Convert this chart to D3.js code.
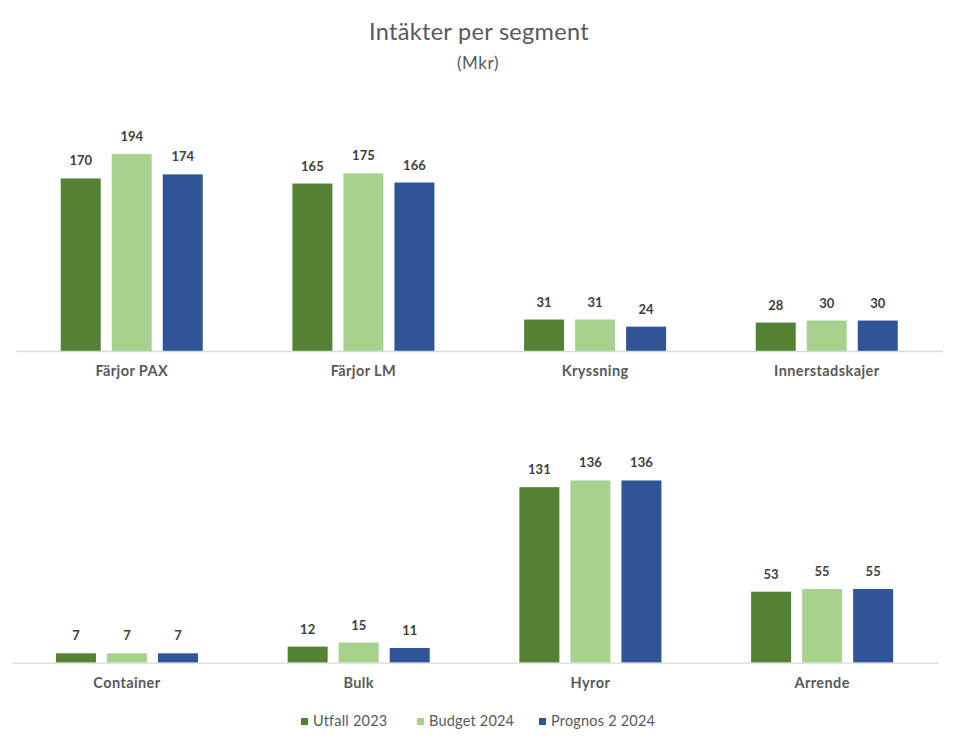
<!DOCTYPE html>
<html>
<head>
<meta charset="utf-8">
<script src="https://cdn.jsdelivr.net/npm/d3@7"></script>
<style>
  html, body { margin: 0; padding: 0; background: #ffffff; }
  svg { display: block; font-family: Lato, "Open Sans", "Noto Sans", sans-serif; }
</style>
</head>
<body>
<svg id="chart" width="958" height="740"></svg>
<script>
// Segments, split across the two panels
const topCategories = ["Färjor PAX", "Färjor LM", "Kryssning", "Innerstadskajer"];
const bottomCategories = ["Container", "Bulk", "Hyror", "Arrende"];

// Series names
const seriesNames = ["Utfall 2023", "Budget 2024", "Prognos 2 2024"];

// Values per series (Mkr), top panel
const topUtfall2023 = [170, 165, 31, 28];
const topBudget2024 = [194, 175, 31, 30];
const topPrognos2024 = [174, 166, 24, 30];

// Values per series (Mkr), bottom panel
const bottomUtfall2023 = [7, 12, 131, 53];
const bottomBudget2024 = [7, 15, 136, 55];
const bottomPrognos2024 = [7, 11, 136, 55];

const colors = ["#548235", "#A9D18E", "#2F5597"];

const svg = d3.select("#chart");

// Title
svg.append("text")
  .attr("x", 479).attr("y", 40)
  .attr("text-anchor", "middle")
  .attr("font-size", 23.5)
  .attr("letter-spacing", 0.3)
  .attr("fill", "#595959")
  .text("Intäkter per segment");
svg.append("text")
  .attr("x", 478).attr("y", 69)
  .attr("text-anchor", "middle")
  .attr("font-size", 17)
  .attr("letter-spacing", 0.6)
  .attr("fill", "#595959")
  .text("(Mkr)");

function drawPanel(categories, seriesValues, xRange, baseline, yMax, pxPerUnit) {
  const rows = categories.map((c, i) => ({
    category: c,
    values: seriesValues.map((vals, s) => ({ series: seriesNames[s], idx: s, value: vals[i] }))
  }));

  const x0 = d3.scaleBand()
    .domain(categories)
    .range(xRange)
    .paddingInner(0.387)
    .paddingOuter(0.1935);

  const x1 = d3.scaleBand()
    .domain(seriesNames)
    .range([0, x0.bandwidth()])
    .paddingInner(0.216)
    .paddingOuter(0);

  const y = d3.scaleLinear()
    .domain([0, yMax])
    .range([baseline, baseline - yMax * pxPerUnit]);

  const g = svg.append("g");

  const groups = g.selectAll("g.group")
    .data(rows)
    .join("g")
    .attr("class", "group")
    .attr("transform", d => `translate(${x0(d.category)},0)`);

  groups.selectAll("rect")
    .data(d => d.values)
    .join("rect")
    .attr("x", d => x1(d.series))
    .attr("width", x1.bandwidth())
    .attr("y", d => y(d.value))
    .attr("height", d => y(0) - y(d.value))
    .attr("fill", d => colors[d.idx]);

  groups.selectAll("text.value")
    .data(d => d.values)
    .join("text")
    .attr("class", "value")
    .attr("x", d => x1(d.series) + x1.bandwidth() / 2)
    .attr("y", d => y(d.value) - 13)
    .attr("text-anchor", "middle")
    .attr("font-size", 13)
    .attr("font-weight", "bold")
    .attr("fill", "#404040")
    .text(d => d.value);

  // Category axis along the baseline
  const axis = g.append("g")
    .attr("transform", `translate(0,${baseline})`)
    .call(d3.axisBottom(x0).tickSize(0).tickSizeOuter(0).tickPadding(15));
  axis.select(".domain").attr("stroke", "#d9d9d9").attr("stroke-width", 1.3);
  axis.selectAll(".tick text")
    .attr("font-family", "Lato, 'Open Sans', sans-serif")
    .attr("font-size", 14.5)
    .attr("letter-spacing", 0.4)
    .attr("font-weight", "bold")
    .attr("fill", "#595959");
}

drawPanel(topCategories, [topUtfall2023, topBudget2024, topPrognos2024],
  [15.9, 942.6], 351, 250, 1.015);
drawPanel(bottomCategories, [bottomUtfall2023, bottomBudget2024, bottomPrognos2024],
  [11.1, 938], 662.7, 160, 1.34);

// Legend
const legendX = [301, 417, 539];
const legend = svg.append("g");
seriesNames.forEach((name, i) => {
  legend.append("rect")
    .attr("x", legendX[i]).attr("y", 718)
    .attr("width", 7).attr("height", 7)
    .attr("fill", colors[i]);
  legend.append("text")
    .attr("x", legendX[i] + 12).attr("y", 726)
    .attr("font-size", 14.5)
    .attr("letter-spacing", 0.2)
    .attr("fill", "#595959")
    .text(name);
});
</script>
</body>
</html>
